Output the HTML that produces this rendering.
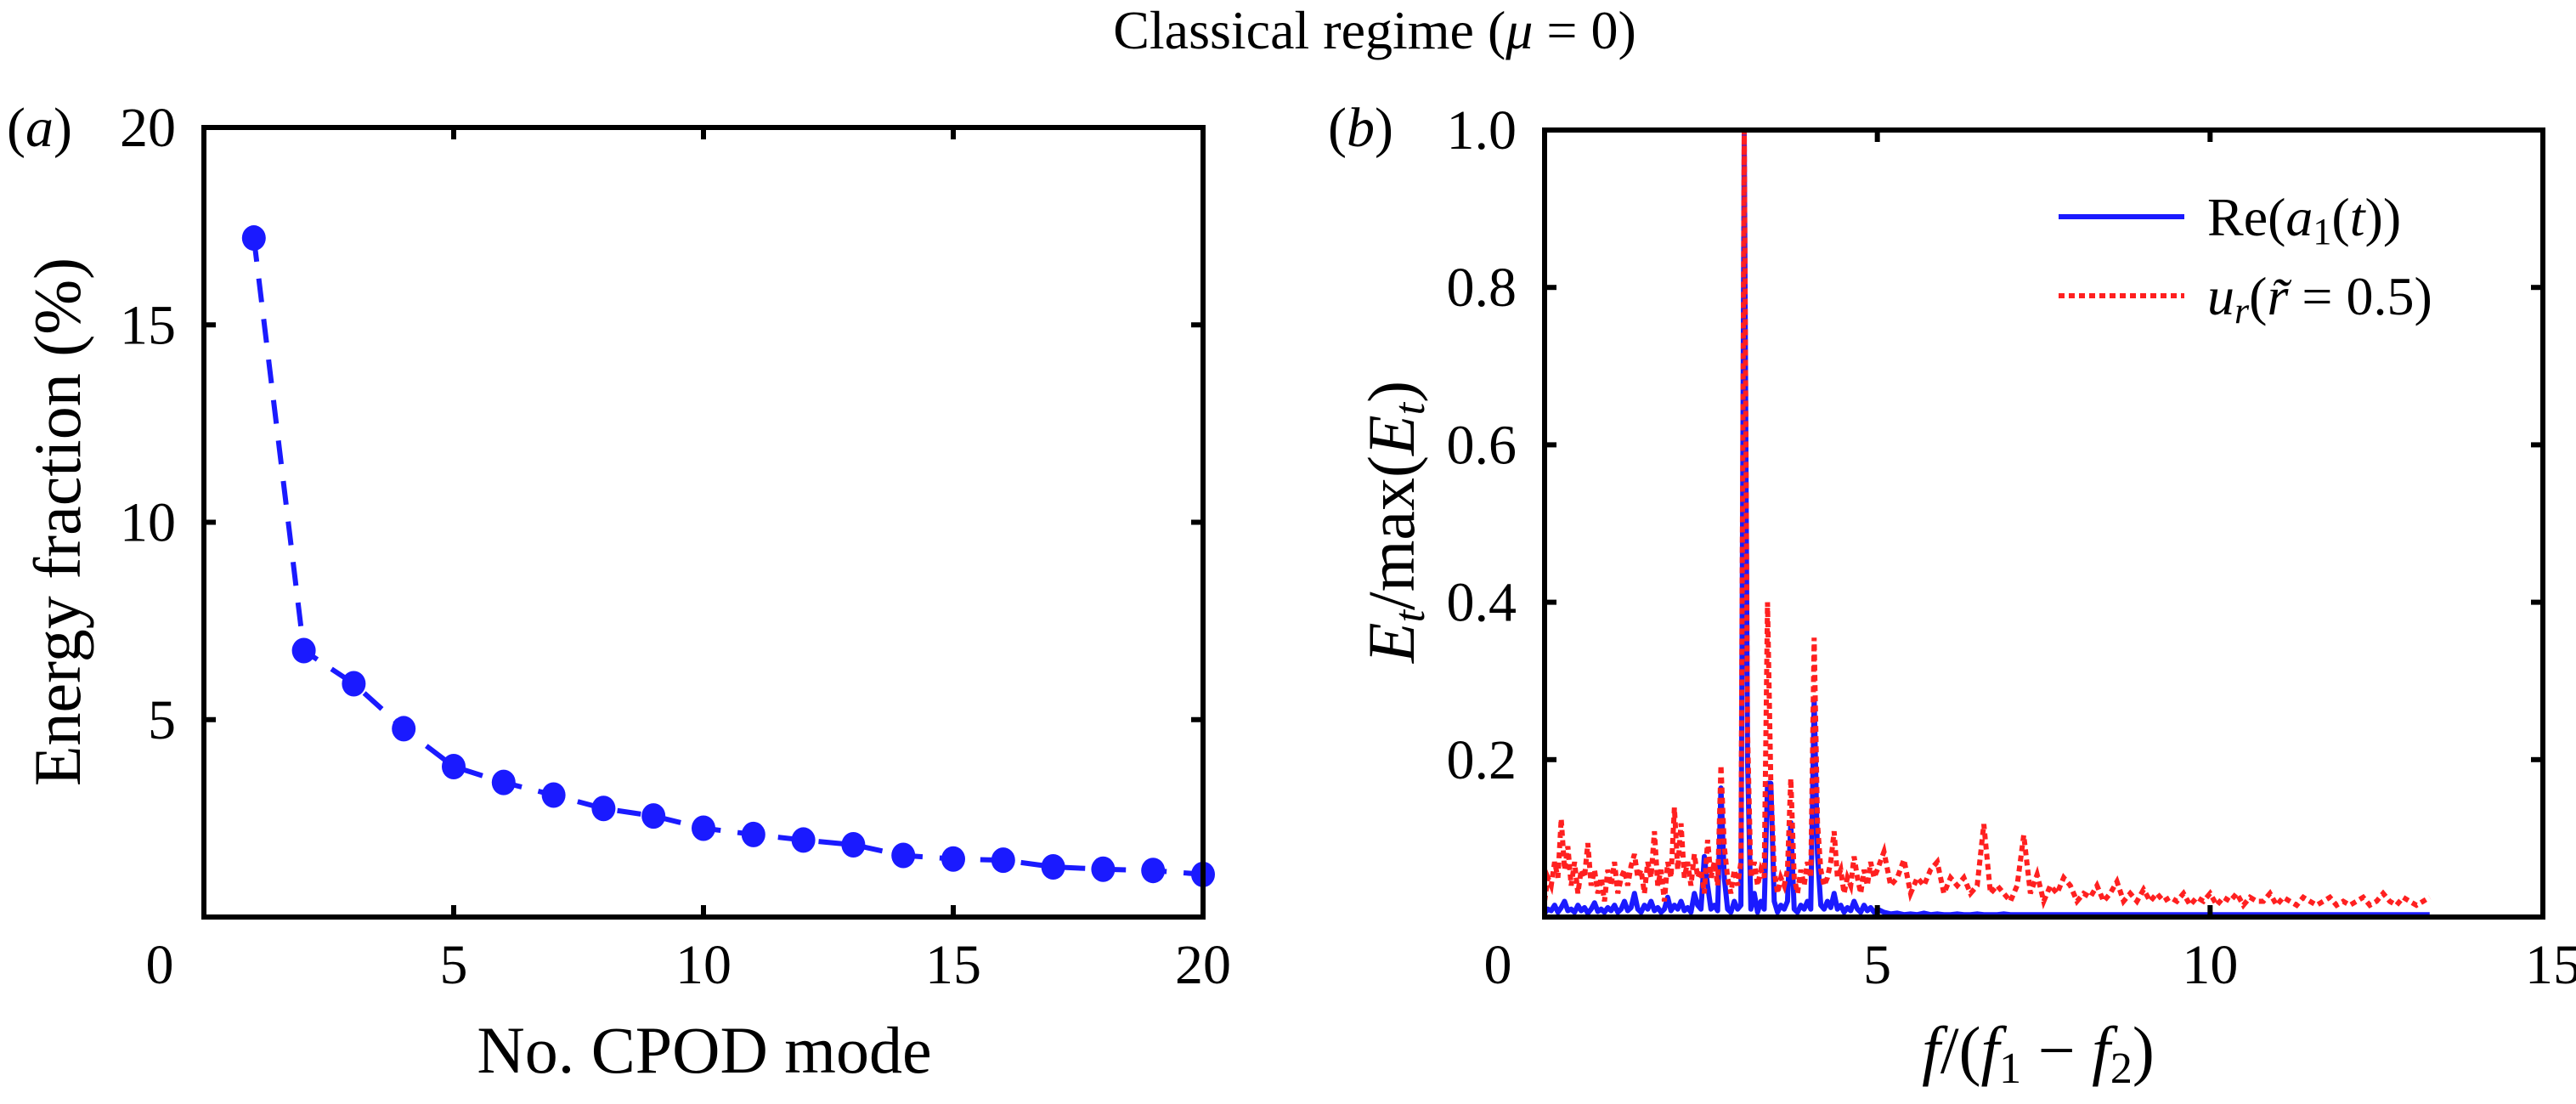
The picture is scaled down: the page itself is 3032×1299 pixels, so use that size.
<!DOCTYPE html>
<html><head><meta charset="utf-8"><title>Classical regime</title>
<style>
html,body{margin:0;padding:0;background:#fff;}
svg{display:block;}
text{font-family:"Liberation Serif","DejaVu Serif",serif;fill:#000;}
</style></head>
<body>
<svg id="fig" width="3032" height="1299" viewBox="0 0 3032 1299" xmlns="http://www.w3.org/2000/svg">
<text x="1618" y="57" font-size="64" text-anchor="middle">Classical regime (<tspan font-style="italic">μ</tspan> = 0)</text>
<g id="panelA"></g>
<g id="panelB"></g>
</svg>
<script>
// ---- Panel (a) data ----
const modeNumbers = [1,2,3,4,5,6,7,8,9,10,11,12,13,14,15,16,17,18,19,20];
const energyFraction = [17.2,6.75,5.91,4.77,3.81,3.41,3.09,2.75,2.56,2.25,2.09,1.95,1.83,1.56,1.47,1.44,1.27,1.21,1.18,1.08];
const aXTicks = [0,5,10,15,20];
const aYTicks = [5,10,15,20];

// ---- Panel (b) data ----
const fStepLow = 0.05;   // grid spacing for 0..5
const fStepHigh = 0.1;   // grid spacing for 5.1..13.3
const redLow = [.02,.05,.04,.07,.05,.125,.06,.09,.04,.07,.03,.06,.05,.094,.04,.06,.03,.05,.02,.06,
.04,.07,.03,.05,.06,.04,.065,.08,.05,.06,.03,.07,.05,.109,.04,.06,.02,.07,.05,.139,
.06,.119,.05,.07,.04,.08,.05,.06,.03,.098,.05,.07,.04,.193,.09,.05,.03,.06,.04,.07,
1.0,.236,.05,.07,.04,.06,.05,.40,.17,.06,.03,.05,.04,.06,.176,.05,.03,.06,.04,.07,
.05,.355,.12,.06,.04,.05,.07,.109,.05,.06,.03,.05,.04,.077,.05,.03,.06,.04,.07,.05,.06];
const redHigh = [.083,.04,.05,.073,.03,.05,.04,.06,.07,.03,.05,.04,.05,.03,.04,.118,.03,.04,.03,.02,
.04,.104,.03,.054,.02,.04,.03,.05,.04,.02,.03,.025,.04,.02,.03,.045,.02,.03,.02,.035,
.02,.03,.02,.025,.02,.03,.015,.025,.02,.03,.015,.025,.02,.03,.015,.025,.02,.02,.03,.015,
.025,.02,.015,.025,.02,.015,.02,.025,.015,.02,.015,.02,.025,.015,.02,.03,.02,.015,.025,.02,
.015,.02,.025];
const blueLow = [.005,.01,.008,.015,.006,.012,.02,.008,.01,.006,.015,.008,.012,.005,.01,.018,.007,.01,.006,.012,
.008,.015,.006,.01,.02,.008,.012,.03,.01,.006,.015,.01,.02,.008,.012,.006,.01,.025,.008,.015,
.01,.02,.008,.012,.006,.03,.015,.01,.077,.04,.01,.015,.008,.164,.05,.01,.006,.02,.01,.015,
1.0,.2,.01,.03,.006,.02,.01,.17,.17,.02,.006,.015,.01,.02,.12,.01,.006,.015,.01,.02,
.01,.278,.08,.015,.01,.02,.012,.03,.01,.015,.006,.012,.008,.02,.01,.006,.015,.008,.012,.006,.01];
const blueHigh = [.006,.004,.005,.003,.004,.003,.005,.003,.004,.003,.003,.004,.003,.003,.004,.003,.003,.003,.004,.003,
.003,.003,.003,.003,.003,.003,.003,.003,.003,.003,.003,.003,.003,.003,.003,.003,.003,.003,.003,.003,
.003,.003,.003,.003,.003,.003,.003,.003,.003,.003,.003,.003,.003,.003,.003,.003,.003,.003,.003,.003,
.003,.003,.003,.003,.003,.003,.003,.003,.003,.003,.003,.003,.003,.003,.003,.003,.003,.003,.003,.003,
.003,.003,.003];
const bXTicks = [0,5,10,15];
const bYTicks = [0.2,0.4,0.6,0.8,1.0];

const NS = "http://www.w3.org/2000/svg";
function mk(tag, attrs, parent){
  const e = document.createElementNS(NS, tag);
  for (const k in attrs) e.setAttribute(k, attrs[k]);
  parent.appendChild(e);
  return e;
}

// ---- Panel A ----
const A = {x0:240, x1:1416, y0:1079, y1:150, xmin:0, xmax:20, ymin:0, ymax:20};
const ax = v => A.x0 + (v - A.xmin) / (A.xmax - A.xmin) * (A.x1 - A.x0);
const ay = v => A.y0 - (v - A.ymin) / (A.ymax - A.ymin) * (A.y0 - A.y1);
const gA = document.getElementById('panelA');

let dA = '';
modeNumbers.forEach((m, i) => { dA += (i ? 'L' : 'M') + ax(m).toFixed(1) + ' ' + ay(energyFraction[i]).toFixed(1); });
const lineA = mk('path', {d: dA, fill: 'none', stroke: '#1a1aff', 'stroke-width': 6, 'stroke-dasharray': '28 20'}, gA);


modeNumbers.forEach((m, i) => {
  const c = mk('ellipse', {cx: ax(m), cy: ay(energyFraction[i]), rx: 14, ry: 15, fill: '#1a1aff'}, gA);
  
  
});

const frameA = mk('rect', {x: A.x0, y: A.y1, width: A.x1 - A.x0, height: A.y0 - A.y1, fill: 'none', stroke: '#000', 'stroke-width': 6}, gA);



aXTicks.forEach(t => {
  const x = ax(t);
  if (t > A.xmin && t < A.xmax) {
    mk('line', {x1: x, y1: A.y0, x2: x, y2: A.y0 - 14, stroke: '#000', 'stroke-width': 6}, gA);
    mk('line', {x1: x, y1: A.y1, x2: x, y2: A.y1 + 14, stroke: '#000', 'stroke-width': 6}, gA);
  }
  const lx = t === A.xmin ? x - 52 : x;
  const tl = mk('text', {x: lx, y: 1157, 'font-size': 66, 'text-anchor': 'middle'}, gA);
  tl.textContent = t;
  
  
});
aYTicks.forEach(t => {
  const y = ay(t);
  if (t < A.ymax) {
    mk('line', {x1: A.x0, y1: y, x2: A.x0 + 14, y2: y, stroke: '#000', 'stroke-width': 6}, gA);
    mk('line', {x1: A.x1, y1: y, x2: A.x1 - 14, y2: y, stroke: '#000', 'stroke-width': 6}, gA);
  }
  const tl = mk('text', {x: 207, y: y + 22, 'font-size': 66, 'text-anchor': 'end'}, gA);
  tl.textContent = t;
  
  
});
const xlA = mk('text', {x: 829, y: 1262, 'font-size': 78, 'text-anchor': 'middle'}, gA);
xlA.textContent = 'No. CPOD mode';


const ylA = mk('text', {x: 0, y: 0, 'font-size': 78, 'text-anchor': 'middle', transform: 'translate(94,614) rotate(-90)'}, gA);
ylA.textContent = 'Energy fraction (%)';


const plA = mk('text', {x: 8, y: 172, 'font-size': 66}, gA);
plA.innerHTML = '(<tspan font-style="italic">a</tspan>)';



// ---- Panel B ----
const B = {x0:1818, x1:2993, y0:1079, y1:153, xmin:0, xmax:15, ymin:0, ymax:1};
const bx = v => B.x0 + (v - B.xmin) / (B.xmax - B.xmin) * (B.x1 - B.x0);
const by = v => B.y0 - (v - B.ymin) / (B.ymax - B.ymin) * (B.y0 - B.y1);
const gB = document.getElementById('panelB');

function spectrumPath(low, high){
  let d = '';
  low.forEach((v, i) => { d += (i ? 'L' : 'M') + bx(i * fStepLow).toFixed(1) + ' ' + by(v).toFixed(1); });
  const fStart = (low.length - 1) * fStepLow;
  high.forEach((v, i) => { d += 'L' + bx(fStart + (i + 1) * fStepHigh).toFixed(1) + ' ' + by(v).toFixed(1); });
  return d;
}
const blueLine = mk('path', {d: spectrumPath(blueLow, blueHigh), fill: 'none', stroke: '#1a1aff', 'stroke-width': 6, 'stroke-linejoin': 'round'}, gB);


const redLine = mk('path', {d: spectrumPath(redLow, redHigh), fill: 'none', stroke: '#ff2020', 'stroke-width': 6, 'stroke-dasharray': '7 5'}, gB);



const frameB = mk('rect', {x: B.x0, y: B.y1, width: B.x1 - B.x0, height: B.y0 - B.y1, fill: 'none', stroke: '#000', 'stroke-width': 6}, gB);



bXTicks.forEach(t => {
  const x = bx(t);
  if (t > B.xmin && t < B.xmax) {
    mk('line', {x1: x, y1: B.y0, x2: x, y2: B.y0 - 14, stroke: '#000', 'stroke-width': 6}, gB);
    mk('line', {x1: x, y1: B.y1, x2: x, y2: B.y1 + 14, stroke: '#000', 'stroke-width': 6}, gB);
  }
  const lx = t === B.xmin ? x - 55 : (t === B.xmax ? x + 12 : x);
  const tl = mk('text', {x: lx, y: 1157, 'font-size': 66, 'text-anchor': 'middle'}, gB);
  tl.textContent = t;
  
  
});
bYTicks.forEach(t => {
  const y = by(t);
  if (t < B.ymax) {
    mk('line', {x1: B.x0, y1: y, x2: B.x0 + 14, y2: y, stroke: '#000', 'stroke-width': 6}, gB);
    mk('line', {x1: B.x1, y1: y, x2: B.x1 - 14, y2: y, stroke: '#000', 'stroke-width': 6}, gB);
  }
  const tl = mk('text', {x: 1785, y: y + 22, 'font-size': 66, 'text-anchor': 'end'}, gB);
  tl.textContent = t.toFixed(1);
  
  
});
const xlB = mk('text', {x: 2399, y: 1262, 'font-size': 78, 'text-anchor': 'middle'}, gB);
xlB.innerHTML = '<tspan font-style="italic">f</tspan>/(<tspan font-style="italic">f</tspan><tspan font-size="52" dy="12">1</tspan><tspan dy="-12"> − </tspan><tspan font-style="italic">f</tspan><tspan font-size="52" dy="12">2</tspan><tspan dy="-12">)</tspan>';


const ylB = mk('text', {x: 0, y: 0, 'font-size': 78, 'text-anchor': 'middle', transform: 'translate(1664,614) rotate(-90)'}, gB);
ylB.innerHTML = '<tspan font-style="italic">E</tspan><tspan font-style="italic" font-size="52" dy="12">t</tspan><tspan dy="-12">/max(</tspan><tspan font-style="italic">E</tspan><tspan font-style="italic" font-size="52" dy="12">t</tspan><tspan dy="-12">)</tspan>';


const plB = mk('text', {x: 1563, y: 172, 'font-size': 66}, gB);
plB.innerHTML = '(<tspan font-style="italic">b</tspan>)';



// Legend
const legBlue = mk('line', {x1: 2423, y1: 255, x2: 2571, y2: 255, stroke: '#1a1aff', 'stroke-width': 6}, gB);


const legBlueT = mk('text', {x: 2598, y: 277, 'font-size': 64}, gB);
legBlueT.innerHTML = 'Re(<tspan font-style="italic">a</tspan><tspan font-size="44" dy="10">1</tspan><tspan dy="-10">(</tspan><tspan font-style="italic">t</tspan>))';


const legRed = mk('line', {x1: 2423, y1: 348, x2: 2571, y2: 348, stroke: '#ff2020', 'stroke-width': 6, 'stroke-dasharray': '7 5'}, gB);


const legRedT = mk('text', {x: 2598, y: 370, 'font-size': 64}, gB);
legRedT.innerHTML = '<tspan font-style="italic">u</tspan><tspan font-style="italic" font-size="44" dy="10">r</tspan><tspan dy="-10">(</tspan><tspan font-style="italic">r̃</tspan> = 0.5)';


</script>
</body></html>
